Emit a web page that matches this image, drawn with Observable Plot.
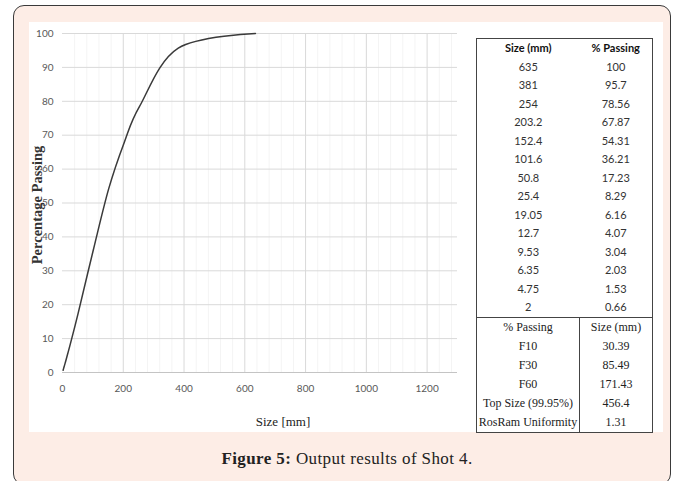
<!DOCTYPE html>
<html>
<head>
<meta charset="utf-8">
<script src="https://cdn.jsdelivr.net/npm/d3@7"></script>
<script src="https://cdn.jsdelivr.net/npm/@observablehq/plot@0.6"></script>
<style>
  html, body { margin: 0; padding: 0; background: #ffffff; }
  #page { position: relative; width: 682px; height: 481px; overflow: hidden; }
  #box { position: absolute; left: 13px; top: 5px; width: 658px; height: 480px;
         border: 1.5px solid #3a3a3a; border-radius: 11px; background: #fdede6; box-sizing: border-box; }
  #inner { position: absolute; left: 29px; top: 22px; width: 634px; height: 410px; background: #ffffff; }
  #chart { position: absolute; left: 29px; top: 22px; }
  #tbl { position: absolute; left: 476px; top: 38px; width: 176px; border-collapse: collapse;
         border: 1px solid #444; table-layout: fixed; }
  #tbl td { padding: 0; text-align: center; color: #333; white-space: nowrap; overflow: hidden; }
  #tbl tr.top td { font-family: Lato, "Open Sans", sans-serif; font-size: 11px; height: 18.5px; line-height: 18.5px; }
  #tbl tr.head td { font-weight: bold; color: #111; }
  #tbl tr.bot td { font-family: "Liberation Serif", "Times New Roman", serif; font-size: 12px; height: 19px; line-height: 19px; color: #222; }
  #tbl tr.bot td.l { border-right: 1px solid #444; }
  #tbl tr.first td { border-top: 1px solid #444; }
  #caption { position: absolute; left: 13px; width: 668px; top: 449px; text-align: center;
             font-family: "Liberation Serif", "Times New Roman", serif; font-size: 17px; letter-spacing: 0.4px; color: #222; }
</style>
</head>
<body>
<div id="page">
  <div id="box"></div>
  <div id="inner"></div>
  <div id="chart"></div>
  <table id="tbl"><colgroup><col style="width:103px"><col style="width:73px"></colgroup><tbody></tbody></table>
  <div id="caption"><b>Figure 5:</b> Output results of Shot 4.</div>
</div>
<script>
// Sieve data (size in mm, % passing)
const sizes   = [635, 381, 254, 203.2, 152.4, 101.6, 50.8, 25.4, 19.05, 12.7, 9.53, 6.35, 4.75, 2];
const passing = [100, 95.7, 78.56, 67.87, 54.31, 36.21, 17.23, 8.29, 6.16, 4.07, 3.04, 2.03, 1.53, 0.66];
const sizeLabels    = ["635", "381", "254", "203.2", "152.4", "101.6", "50.8", "25.4", "19.05", "12.7", "9.53", "6.35", "4.75", "2"];
const passingLabels = ["100", "95.7", "78.56", "67.87", "54.31", "36.21", "17.23", "8.29", "6.16", "4.07", "3.04", "2.03", "1.53", "0.66"];
const statLabels = ["F10", "F30", "F60", "Top Size (99.95%)", "RosRam Uniformity"];
const statValues = ["30.39", "85.49", "171.43", "456.4", "1.31"];
const xTicks = [0, 200, 400, 600, 800, 1000, 1200];
const yTicks = [0, 10, 20, 30, 40, 50, 60, 70, 80, 90, 100];
const xMinor = d3.range(40, 1300, 40).filter(v => v % 200 !== 0);

const data = sizes.map((s, i) => ({size: s, pass: passing[i]})).sort((a, b) => a.size - b.size);

const chart = Plot.plot({
  width: 440, height: 410,
  marginLeft: 33, marginRight: 12, marginTop: 11, marginBottom: 60,
  style: {fontFamily: "Lato, sans-serif", fontSize: "10px", color: "#595959", background: "transparent"},
  x: {domain: [0, 1300], label: null},
  y: {domain: [0, 100], label: null},
  marks: [
    Plot.ruleX(xMinor, {stroke: "#f4f4f4", strokeWidth: 1}),
    Plot.ruleX(xTicks.filter(d => d > 0), {stroke: "#d9d9d9", strokeWidth: 1}),
    Plot.ruleY(yTicks.filter(d => d > 0), {stroke: "#d9d9d9", strokeWidth: 1}),
    Plot.ruleY([0], {stroke: "#c4c4c4", strokeWidth: 1}),
    Plot.axisX(xTicks, {tickSize: 0, tickPadding: 12, label: null, tickFormat: d3.format("d")}),
    Plot.axisY(yTicks, {tickSize: 0, tickPadding: 9, label: null, tickFormat: d3.format("d")}),
    Plot.line(data, {x: "size", y: "pass", curve: "cardinal", tension: 0, stroke: "#3a3a3a", strokeWidth: 1.5}),
    Plot.text(["Percentage Passing"], {frameAnchor: "left", textAnchor: "middle", dx: -25, dy: 2, rotate: -90,
      fontFamily: "Liberation Serif, serif", fontWeight: "bold", fontSize: 14.5, fill: "#333"}),
    Plot.text(["Size [mm]"], {frameAnchor: "bottom", dx: 23, dy: 53, fontFamily: "Liberation Serif, serif",
      fontSize: 13, fill: "#222"})
  ]
});
document.getElementById("chart").appendChild(chart);

// Table
const tb = document.querySelector("#tbl tbody");
function row(cls, a, b) {
  const tr = document.createElement("tr");
  tr.className = cls;
  const t1 = document.createElement("td"); t1.className = "l"; t1.textContent = a;
  const t2 = document.createElement("td"); t2.textContent = b;
  tr.appendChild(t1); tr.appendChild(t2); tb.appendChild(tr);
}
row("top head", "Size (mm)", "% Passing");
sizeLabels.forEach((s, i) => row("top", s, passingLabels[i]));
row("bot first", "% Passing", "Size (mm)");
statLabels.forEach((s, i) => row("bot", s, statValues[i]));
</script>
</body>
</html>
